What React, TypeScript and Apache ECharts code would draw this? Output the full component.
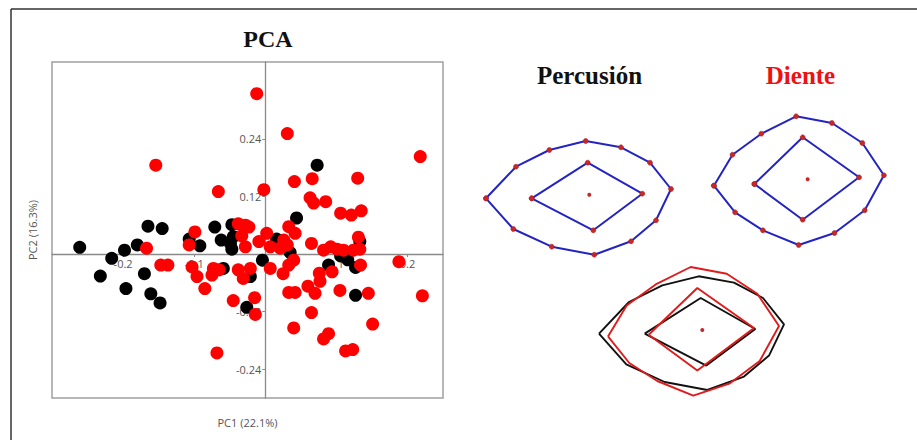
import React, { useEffect, useRef } from "react";
import * as echarts from "echarts";

// PCA scores: [PC1, PC2]
const percusionScores: number[][] = [
  [-0.261, 0.014], [-0.232, -0.046], [-0.216, -0.009], [-0.198, 0.008], [-0.196, -0.072],
  [-0.180, 0.019], [-0.170, -0.041], [-0.165, 0.058], [-0.161, -0.083], [-0.148, -0.102],
  [-0.145, 0.053], [-0.107, 0.031], [-0.092, 0.017], [-0.071, 0.056], [-0.062, 0.029],
  [-0.059, -0.030], [-0.047, 0.061], [-0.045, 0.036], [-0.049, 0.022], [-0.047, 0.010],
  [-0.021, -0.047], [-0.026, -0.111], [-0.004, -0.013], [0.016, 0.031], [0.035, 0.003],
  [0.044, 0.075], [0.073, 0.185], [0.089, -0.023], [0.106, -0.004], [0.116, -0.012],
  [0.127, -0.028], [0.133, 0.026], [0.127, -0.086],
];

const dienteScores: number[][] = [
  [-0.012, 0.334], [0.031, 0.251], [-0.154, 0.185], [0.218, 0.203], [0.041, 0.151],
  [0.066, 0.157], [0.130, 0.158], [-0.066, 0.130], [-0.002, 0.134], [0.063, 0.117],
  [0.068, 0.106], [0.085, 0.109], [0.106, 0.085], [0.121, 0.081], [0.135, 0.090],
  [-0.167, 0.012], [-0.147, -0.023], [-0.137, -0.023], [-0.099, 0.046], [-0.107, 0.019],
  [-0.103, -0.027], [-0.096, -0.047], [-0.085, -0.072], [-0.075, -0.044], [-0.073, -0.030],
  [-0.065, -0.033], [-0.038, 0.063], [-0.028, 0.060], [-0.023, 0.056], [-0.033, 0.038],
  [-0.028, 0.015], [-0.009, 0.026], [0.002, 0.043], [0.007, 0.015], [0.026, 0.029],
  [0.033, 0.057], [0.042, 0.043], [0.021, 0.012], [0.031, 0.019], [-0.038, -0.033],
  [-0.021, -0.030], [-0.031, -0.051], [-0.045, -0.097], [-0.015, -0.091], [-0.014, -0.126],
  [-0.068, -0.206], [0.007, -0.030], [0.040, -0.013], [0.033, -0.023], [0.025, -0.041],
  [0.033, -0.080], [0.042, -0.080], [0.060, -0.067], [0.040, -0.154], [0.065, 0.022],
  [0.082, 0.008], [0.092, 0.015], [0.101, 0.010], [0.110, 0.008], [0.124, 0.008],
  [0.133, 0.010], [0.131, 0.035], [0.094, -0.037], [0.076, -0.040], [0.077, -0.057],
  [0.070, -0.082], [0.105, -0.076], [0.134, -0.023], [0.145, -0.082], [0.188, -0.016],
  [0.221, -0.087], [0.065, -0.122], [0.151, -0.146], [0.082, -0.177], [0.089, -0.166],
  [0.113, -0.202], [0.123, -0.199],
];

const xTickValues = [-0.2, -0.1, 0.1, 0.2];
const yTickValues = [-0.24, -0.12, 0.12, 0.24];

// Mean shape landmarks (relative to centroid)
const percusionOuter: number[][] = [
  [-103.3, -3.6], [-73.3, 28], [-40, 44.7], [-3.6, 53.7], [31.7, 47.4], [60.7, 32],
  [81.7, 5.7], [66.7, -25.6], [41.7, -46.6], [5, -60], [-37.6, -52], [-76, -34.3],
];
const percusionInner: number[][] = [[-57.6, -3.6], [-1.6, 32], [53, 1], [4, -35.6]];
const dienteOuter: number[][] = [
  [-94.3, -6.4], [-75.6, 24.6], [-46.6, 45.6], [-11.6, 63], [24.4, 56.3], [55, 36.3],
  [76.7, 4], [57.4, -31], [27, -53.7], [-9, -65.7], [-45, -51], [-73, -33],
];
const dienteInner: number[][] = [[-53.6, -4.7], [-5, 42], [51.7, 2], [-5, -40.4]];
const centroid: number[][] = [[0, 0]];

const close = (pts: number[][]) => [...pts, pts[0]];

export default function App() {
  const ref = useRef<HTMLDivElement>(null);
  useEffect(() => {
    if (!ref.current) return;
    const chart = echarts.init(ref.current, null, { renderer: "svg" });
    const labelFont = { color: "#555", fontSize: 11, fontFamily: "Open Sans" };
    const hiddenAxis = (gi: number, half: number) => ({
      type: "value", gridIndex: gi, min: -half, max: half, show: false,
    });
    const main = { left: 52, top: 62, width: 391, height: 336 };
    const xMin = -0.3, xMax = 0.25, yMin = -0.3, yMax = 0.4;
    // move the axes so that they cross at the origin (labels follow them)
    const xOffset = -((0 - yMin) / (yMax - yMin)) * main.height;
    const yOffset = -((0 - xMin) / (xMax - xMin)) * main.width;
    const shapeGrids = [
      { left: 479.3, top: 124.7, width: 220, height: 140 },
      { left: 698.3, top: 104.3, width: 220, height: 150 },
      { left: 592.3, top: 255, width: 220, height: 150 },
    ];
    const blueLine = (gi: number, data: number[][]) => ({
      type: "line", xAxisIndex: gi, yAxisIndex: gi, data: close(data),
      symbol: "circle", symbolSize: 5, showSymbol: true,
      itemStyle: { color: "#c62828", borderColor: "#a01818", borderWidth: 0.5 },
      lineStyle: { color: "#2424c2", width: 2 }, silent: true,
    });
    const plainLine = (gi: number, data: number[][], color: string) => ({
      type: "line", xAxisIndex: gi, yAxisIndex: gi, data: close(data),
      showSymbol: false, symbol: "none",
      lineStyle: { color, width: 1.9 }, silent: true,
    });
    const dot = (gi: number) => ({
      type: "scatter", xAxisIndex: gi, yAxisIndex: gi, data: centroid,
      symbolSize: 4, itemStyle: { color: "#c62828", opacity: 1 }, silent: true,
    });
    chart.setOption({
      animation: false,
      grid: [
        { ...main, show: true, borderColor: "#a0a0a0", borderWidth: 1.5 },
        ...shapeGrids,
      ],
      xAxis: [
        {
          type: "value", gridIndex: 0, min: xMin, max: xMax, position: "bottom", offset: xOffset,
          axisLine: { onZero: false, lineStyle: { color: "#8a8a8a", width: 1.3 } },
          axisTick: { show: true, length: 3, customValues: xTickValues, lineStyle: { color: "#8a8a8a" } },
          axisLabel: { ...labelFont, customValues: xTickValues, margin: 4, formatter: (v: number) => v.toFixed(1) },
          splitLine: { show: false },
        },
        hiddenAxis(1, 110), hiddenAxis(2, 110), hiddenAxis(3, 110),
      ],
      yAxis: [
        {
          type: "value", gridIndex: 0, min: yMin, max: yMax, position: "left", offset: yOffset,
          axisLine: { onZero: false, lineStyle: { color: "#8a8a8a", width: 1.3 } },
          axisTick: { show: true, length: 3, customValues: yTickValues, lineStyle: { color: "#8a8a8a" } },
          axisLabel: { ...labelFont, customValues: yTickValues, margin: 4, formatter: (v: number) => v.toFixed(2) },
          splitLine: { show: false },
        },
        hiddenAxis(1, 70), hiddenAxis(2, 75), hiddenAxis(3, 75),
      ],
      series: [
        {
          type: "scatter", xAxisIndex: 0, yAxisIndex: 0, data: percusionScores,
          symbolSize: 13, itemStyle: { color: "#000000", opacity: 1 },
        },
        {
          type: "scatter", xAxisIndex: 0, yAxisIndex: 0, data: dienteScores,
          symbolSize: 13, itemStyle: { color: "#ff0000", opacity: 1 },
        },
        blueLine(1, percusionOuter), blueLine(1, percusionInner), dot(1),
        blueLine(2, dienteOuter), blueLine(2, dienteInner), dot(2),
        plainLine(3, percusionOuter, "#111111"), plainLine(3, percusionInner, "#111111"),
        plainLine(3, dienteOuter, "#e01b1b"), plainLine(3, dienteInner, "#e01b1b"), dot(3),
      ],
      graphic: [
        { type: "line", shape: { x1: 11, y1: 9, x2: 917, y2: 9 }, style: { stroke: "#333", lineWidth: 1.5 } },
        { type: "line", shape: { x1: 11, y1: 9, x2: 11, y2: 440 }, style: { stroke: "#333", lineWidth: 1.5 } },
        {
          type: "text", x: 268, y: 39,
          style: { text: "PCA", fill: "#111", font: "bold 24px 'Liberation Serif'", textAlign: "center", textVerticalAlign: "middle" },
        },
        {
          type: "text", x: 589.5, y: 75,
          style: { text: "Percusión", fill: "#111", font: "bold 25px 'Liberation Serif'", textAlign: "center", textVerticalAlign: "middle" },
        },
        {
          type: "text", x: 800.5, y: 75,
          style: { text: "Diente", fill: "#ee1111", font: "bold 25px 'Liberation Serif'", textAlign: "center", textVerticalAlign: "middle" },
        },
        {
          type: "text", x: 247.5, y: 422,
          style: { text: "PC1 (22.1%)", fill: "#555", font: "11px 'Open Sans'", textAlign: "center", textVerticalAlign: "middle" },
        },
        {
          type: "text", x: 32, y: 230, rotation: Math.PI / 2,
          style: { text: "PC2 (16.3%)", fill: "#555", font: "11px 'Open Sans'", textAlign: "center", textVerticalAlign: "middle" },
        },
      ],
    });
    return () => chart.dispose();
  }, []);
  return (
    <div
      ref={ref}
      style={{ position: "absolute", left: 0, top: 0, width: 917, height: 440, background: "#fff" }}
    />
  );
}
